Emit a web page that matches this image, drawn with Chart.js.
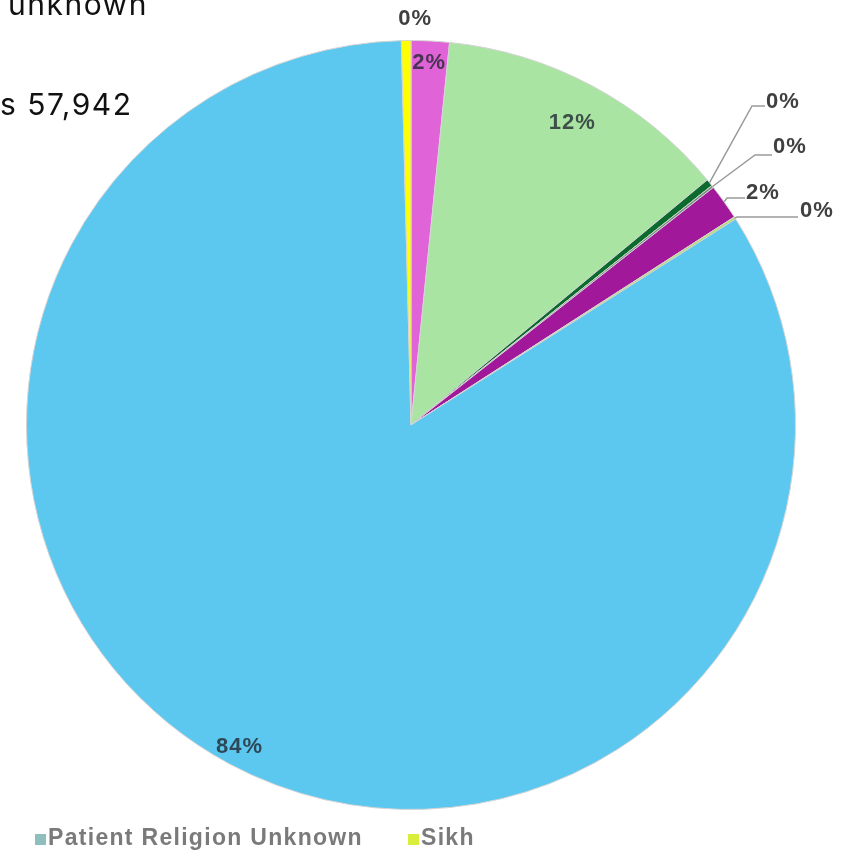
<!DOCTYPE html>
<html>
<head>
<meta charset="utf-8">
<style>
  html, body { margin: 0; padding: 0; background: #ffffff; }
  #wrap { position: relative; width: 848px; height: 858px; overflow: hidden; }
  canvas { display: block; }
</style>
<script src="https://cdn.jsdelivr.net/npm/chart.js@4.4.1/dist/chart.umd.min.js"></script>
</head>
<body>
<div id="wrap"><canvas id="pie" width="848" height="858"></canvas></div>
<script>
// Religion breakdown of patients (percentage share of total)
const categories = ['Other', 'Christian', 'Jewish', 'Buddhist', 'Muslim', 'Hindu', 'Patient Religion Unknown', 'Sikh'];
const shares = [1.6, 12.4, 0.3, 0.1, 1.5, 0.1, 83.6, 0.4];

// Legend entries shown below the pie
const legendEntries = ['Patient Religion Unknown', 'Sikh'];

// Heading text visible at the top left
const headingLines = ['unknown', 's 57,942'];

// Slice colours, in category order
const sliceColors = ['#e064d8', '#a9e4a3', '#0b6a2c', '#6f8f7a', '#a2189a', '#b5dc6a', '#5cc8f0', '#ffff00'];
const legendSwatches = { 'Patient Religion Unknown': '#8ebfbd', 'Sikh': '#d9ee3a' };

// How each slice's percentage label is placed
const labelMode = ['inside', 'inside', 'callout', 'callout', 'callout', 'callout', 'inside', 'above'];
const insideDepth = { 0: 22, 1: 42, 6: 20 };
// Callout geometry: elbow point, end of horizontal leader, text start
const callouts = {
  2: { elbow: [752, 106], end: [765, 106], text: [766, 108] },
  3: { elbow: [755, 155], end: [772, 155], text: [773, 153] },
  4: { elbow: [727, 198], end: [745, 198], text: [746, 199] },
  5: { elbow: [737, 217], end: [798, 217], text: [800, 217] }
};

const pctText = v => Math.round(v) + '%';
const labelFont = 'bold 22px "Liberation Sans Narrow", "Liberation Sans", Arial, sans-serif';

const sliceLabels = {
  id: 'sliceLabels',
  afterDatasetsDraw(chart) {
    const ctx = chart.ctx;
    const meta = chart.getDatasetMeta(0);
    const values = chart.data.datasets[0].data;
    ctx.save();
    ctx.font = labelFont;
    ctx.letterSpacing = '1px';
    meta.data.forEach((arc, i) => {
      const p = arc.getProps(['x', 'y', 'startAngle', 'endAngle', 'outerRadius'], true);
      const mid = (p.startAngle + p.endAngle) / 2;
      const txt = pctText(values[i]);
      const mode = labelMode[i];
      if (mode === 'inside') {
        const r = p.outerRadius - insideDepth[i];
        ctx.fillStyle = 'rgba(35,40,50,0.8)';
        ctx.textAlign = 'center';
        ctx.textBaseline = 'middle';
        ctx.fillText(txt, p.x + Math.cos(mid) * r, p.y + Math.sin(mid) * r);
      } else if (mode === 'above') {
        const ex = p.x + Math.cos(mid) * p.outerRadius;
        const ey = p.y + Math.sin(mid) * p.outerRadius;
        ctx.fillStyle = '#404040';
        ctx.textAlign = 'center';
        ctx.textBaseline = 'alphabetic';
        ctx.fillText(txt, ex + 9, ey - 16);
      } else {
        const c = callouts[i];
        const sx = p.x + Math.cos(mid) * p.outerRadius;
        const sy = p.y + Math.sin(mid) * p.outerRadius;
        ctx.strokeStyle = '#9a9a9a';
        ctx.lineWidth = 1.5;
        ctx.beginPath();
        ctx.moveTo(sx, sy);
        ctx.lineTo(c.elbow[0], c.elbow[1]);
        ctx.lineTo(c.end[0], c.end[1]);
        ctx.stroke();
        ctx.fillStyle = '#404040';
        ctx.textAlign = 'left';
        ctx.textBaseline = 'alphabetic';
        ctx.fillText(txt, c.text[0], c.text[1]);
      }
    });
    ctx.restore();
  }
};

const pageText = {
  id: 'pageText',
  afterDraw(chart) {
    const ctx = chart.ctx;
    ctx.save();
    // heading fragments
    ctx.fillStyle = '#111111';
    ctx.font = '30px Inter, "Liberation Sans", sans-serif';
    ctx.textAlign = 'left';
    ctx.textBaseline = 'alphabetic';
    ctx.letterSpacing = '1.5px';
    ctx.fillText(headingLines[0], 8, 15);
    ctx.fillText(headingLines[1], 0, 115);
    // legend
    ctx.font = 'bold 23px "Liberation Sans", Arial, sans-serif';
    ctx.letterSpacing = '1.3px';
    const starts = [35, 408];
    legendEntries.forEach((name, k) => {
      const x = starts[k];
      ctx.fillStyle = legendSwatches[name];
      ctx.fillRect(x, 834, 11, 11);
      ctx.fillStyle = '#7a7a7a';
      ctx.fillText(name, x + 13, 845);
    });
    ctx.restore();
  }
};

new Chart(document.getElementById('pie'), {
  type: 'pie',
  data: {
    labels: categories,
    datasets: [{
      data: shares,
      backgroundColor: sliceColors,
      borderColor: '#d4d4d4',
      borderWidth: 1
    }]
  },
  options: {
    responsive: false,
    animation: false,
    layout: { padding: { left: 26, right: 52, top: 40, bottom: 48 } },
    plugins: {
      legend: { display: false },
      tooltip: { enabled: false },
      title: { display: false }
    }
  },
  plugins: [sliceLabels, pageText]
});
</script>
</body>
</html>
